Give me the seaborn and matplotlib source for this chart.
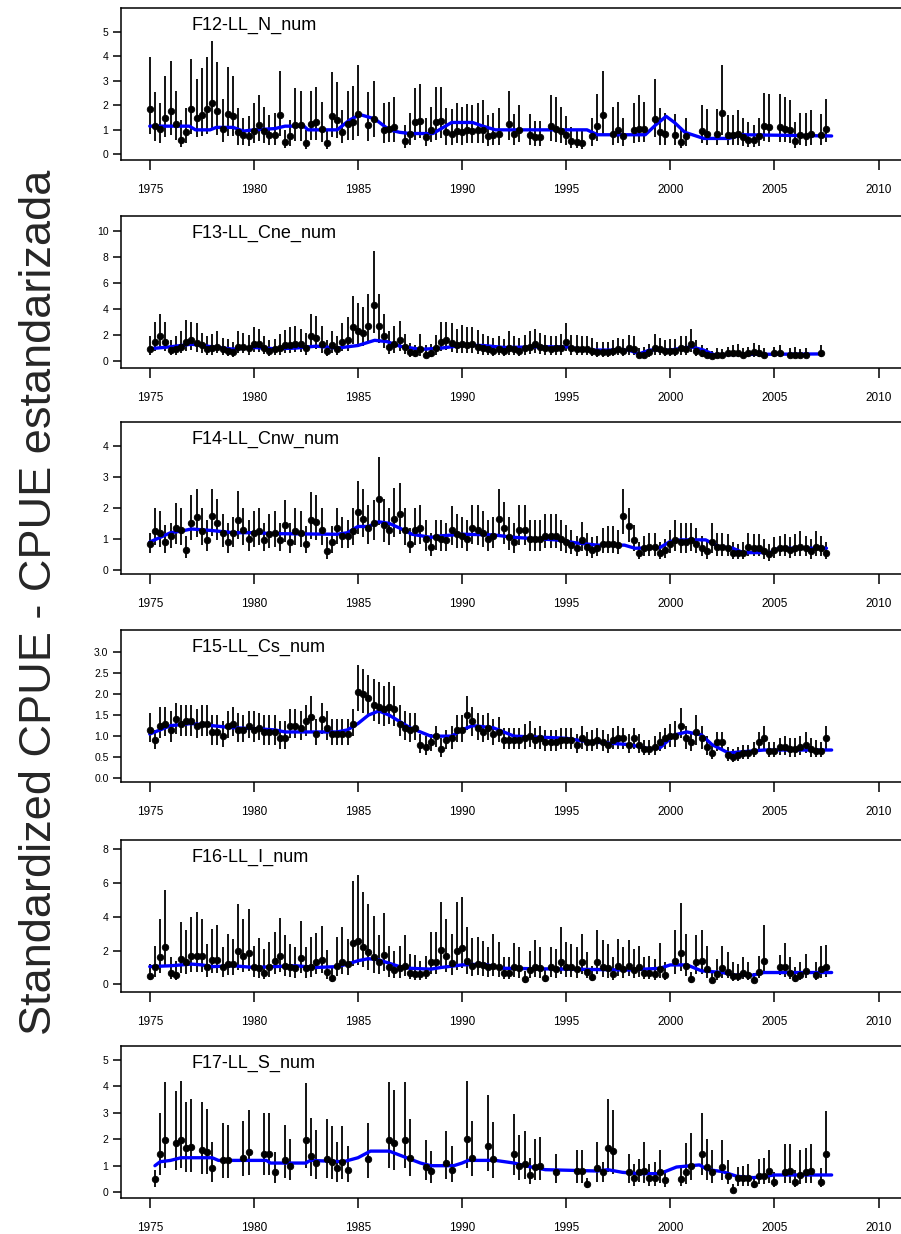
import numpy as np
import pandas as pd
import matplotlib
matplotlib.use("Agg")
import matplotlib.pyplot as plt
from matplotlib.ticker import FormatStrFormatter
import seaborn as sns

N = None

# quarterly time grid (categories): 1975 Q1 ... 2007 Q4
years = list(range(1975, 2008))
quarters = [1, 2, 3, 4]

# ---------------- F12-LL_N_num ----------------
f12_val = [1.85, 1.15, 1.05, 1.5, 1.75, 1.25, 0.6, 0.9,
           1.85, 1.5, 1.6, 1.85, 2.1, 1.75, 1.05, 1.65,
           1.55, 0.9, 0.8, 0.75, 0.95, 1.2, 0.95, 0.8,
           0.8, 1.6, 0.5, 0.75, 1.2, 1.2, 0.45, 1.25,
           1.3, 1.05, 0.45, 1.55, 1.4, 0.9, 1.25, 1.3,
           1.65, N, 1.2, 1.45, N, 1.0, 1.05, 1.1,
           N, 0.55, 0.85, 1.3, 1.35, 0.7, 1.0, 1.3,
           1.35, 0.9, 0.85, 0.95, 0.9, 1.0, 0.95, 1.0,
           1.0, 0.75, 0.8, 0.85, N, 1.25, 0.85, 1.0,
           N, 0.8, 0.7, 0.7, N, 1.15, 1.05, 0.95,
           0.8, 0.55, 0.5, 0.45, N, 0.75, 1.15, 1.6,
           N, 0.85, 1.0, 0.75, N, 1.0, 1.05, 1.05,
           N, 1.45, 0.9, 0.85, N, 0.8, 0.5, 0.75,
           N, N, 0.95, 0.85, N, 0.85, 1.7, 0.8,
           0.8, 0.85, 0.7, 0.6, 0.6, 0.75, 1.15, 1.1,
           N, 1.1, 1.05, 1.0, 0.55, 0.8, 0.75, 0.85,
           N, 0.8, 1.05, N]
f12_hi = [3.95, 2.55, 2.1, 3.2, 3.8, 2.6, 1.4, 1.9,
          3.9, 3.05, 3.5, 3.95, 4.6, 3.75, 2.25, 3.55,
          3.2, 1.9, 1.5, 1.55, 2.1, 2.4, 1.95, 1.6,
          1.7, 3.4, 1.0, 1.4, 2.7, 2.6, 1.0, 2.6,
          2.75, 2.15, 1.0, 3.35, 2.95, 1.8, 2.6, 2.8,
          3.65, N, 2.55, 3.0, N, 2.1, 2.15, 2.35,
          N, 1.2, 1.7, 2.7, 2.85, 1.5, 1.95, 2.75,
          2.75, 1.9, 1.85, 2.1, 1.95, 2.05, 2.0, 2.1,
          2.2, 1.6, 1.7, 1.9, N, 2.6, 1.65, 2.0,
          N, 1.65, 1.35, 1.35, N, 2.4, 2.35, 1.95,
          1.55, 1.1, 1.05, 0.95, N, 1.5, 2.45, 3.4,
          N, 1.95, 2.15, 1.5, N, 2.1, 2.4, 2.15,
          N, 3.05, 1.9, 1.7, N, 1.65, 1.1, 1.5,
          N, N, 2.0, 1.85, N, 1.85, 3.65, 1.6,
          1.6, 1.8, 1.5, 1.3, 1.2, 1.5, 2.5, 2.45,
          N, 2.45, 2.35, 2.2, 1.3, 1.7, 1.7, 1.8,
          N, 1.65, 2.25, N]
f12_lo = [0.85, 0.55, 0.45, 0.7, 0.8, 0.6, 0.3, 0.45,
          0.85, 0.7, 0.75, 0.85, 1.0, 0.8, 0.5, 0.75,
          0.75, 0.4, 0.4, 0.35, 0.45, 0.55, 0.45, 0.4,
          0.4, 0.75, 0.25, 0.35, 0.55, 0.55, 0.2, 0.6,
          0.6, 0.5, 0.2, 0.7, 0.65, 0.45, 0.6, 0.6,
          0.75, N, 0.55, 0.7, N, 0.45, 0.5, 0.5,
          N, 0.25, 0.4, 0.6, 0.65, 0.35, 0.5, 0.6,
          0.65, 0.4, 0.4, 0.45, 0.4, 0.45, 0.45, 0.45,
          0.45, 0.35, 0.4, 0.4, N, 0.6, 0.4, 0.5,
          N, 0.4, 0.35, 0.35, N, 0.55, 0.5, 0.45,
          0.4, 0.25, 0.25, 0.2, N, 0.35, 0.55, 0.75,
          N, 0.4, 0.45, 0.35, N, 0.45, 0.5, 0.5,
          N, 0.7, 0.4, 0.4, N, 0.4, 0.25, 0.35,
          N, N, 0.45, 0.4, N, 0.4, 0.8, 0.4,
          0.4, 0.4, 0.35, 0.3, 0.3, 0.35, 0.55, 0.5,
          N, 0.5, 0.5, 0.45, 0.25, 0.4, 0.35, 0.4,
          N, 0.4, 0.5, N]
f12_trend_t = [1975.0, 1976.9, 1977.2, 1977.9, 1978.2, 1979.0, 1979.5, 1980.0, 1981.0,
               1981.5, 1982.4, 1982.6, 1984.0, 1984.6, 1985.1, 1985.8, 1986.5, 1987.0,
               1987.5, 1988.6, 1989.0, 1989.5, 1990.5, 1991.0, 1991.6, 1996.0, 1996.5,
               1998.8, 1999.3, 1999.8, 2000.2, 2000.7, 2001.6, 2002.8, 2003.5, 2007.75]
f12_trend_v = [1.15, 1.15, 1.0, 1.0, 1.1, 1.1, 0.95, 1.0, 1.05,
               1.15, 1.15, 1.0, 1.0, 1.4, 1.62, 1.45, 1.0, 0.9,
               0.85, 0.85, 1.05, 1.3, 1.3, 1.15, 1.0, 1.0, 0.8,
               0.8, 1.2, 1.55, 1.3, 0.9, 0.65, 0.65, 0.8, 0.75]

# ---------------- F13-LL_Cne_num ----------------
f13_val = [0.9, 1.5, 1.9, 1.5, 0.85, 0.9, 1.1, 1.5,
           1.6, 1.4, 1.2, 0.9, 1.0, 1.1, 0.9, 0.8,
           0.7, 1.1, 1.1, 1.0, 1.3, 1.3, 1.0, 0.8,
           0.9, 1.0, 1.2, 1.2, 1.3, 1.3, 1.0, 1.9,
           1.8, 1.3, 0.8, 1.2, 0.9, 1.5, 1.6, 2.6,
           2.3, 2.2, 2.7, 4.3, 2.7, 1.9, 1.1, 1.3,
           1.6, 1.1, 0.7, 0.6, 0.9, 0.5, 0.6, 1.0,
           1.5, 1.6, 1.4, 1.2, 1.3, 1.2, 1.3, 1.1,
           1.0, 0.9, 0.8, 0.9, 0.8, 1.0, 0.9, 0.8,
           1.0, 1.1, 1.3, 1.1, 1.0, 0.9, 1.0, 1.0,
           1.5, 1.0, 0.9, 0.9, 0.9, 0.8, 0.7, 0.7,
           0.7, 0.8, 0.9, 0.8, 1.0, 0.9, 0.5, 0.5,
           0.7, 1.0, 0.9, 0.8, 0.8, 0.8, 1.0, 0.9,
           1.3, 0.8, 0.6, 0.5, 0.4, 0.5, 0.5, 0.6,
           0.6, 0.6, 0.5, 0.6, 0.7, 0.6, 0.5, N,
           0.6, 0.6, N, 0.5, 0.5, 0.5, 0.5, N,
           N, 0.6, N, N]
f13_hi = [1.9, 3.0, 3.6, 3.0, 1.6, 1.9, 2.3, 3.2,
          3.0, 2.9, 2.2, 1.9, 2.1, 2.3, 1.8, 1.7,
          1.5, 2.3, 2.2, 2.0, 2.6, 2.5, 1.9, 1.6,
          1.7, 2.1, 2.4, 2.6, 2.7, 2.5, 2.2, 3.6,
          3.5, 2.7, 1.6, 2.3, 1.9, 2.9, 3.4, 5.0,
          4.5, 4.2, 5.2, 8.5, 5.2, 3.6, 2.3, 2.7,
          3.1, 2.1, 1.4, 1.2, 2.1, 1.2, 1.3, 2.0,
          3.0, 3.0, 2.9, 2.5, 2.8, 2.6, 2.6, 2.4,
          2.1, 1.9, 1.8, 1.9, 1.7, 2.3, 1.9, 1.8,
          2.0, 2.3, 2.5, 2.2, 2.0, 1.9, 1.9, 2.1,
          2.9, 2.0, 2.0, 1.9, 1.9, 1.8, 1.5, 1.5,
          1.5, 1.6, 1.8, 1.7, 2.0, 1.9, 1.0, 1.1,
          1.3, 2.1, 1.8, 1.6, 1.7, 1.7, 1.9, 1.9,
          2.5, 1.6, 1.2, 1.0, 0.8, 1.0, 0.9, 1.1,
          1.2, 1.3, 1.0, 1.1, 1.4, 1.2, 1.0, N,
          1.1, 1.2, N, 1.0, 1.1, 0.9, 1.0, N,
          N, 1.2, N, N]
f13_lo = [0.5, 0.8, 1.0, 0.8, 0.45, 0.5, 0.6, 0.8,
          0.85, 0.7, 0.65, 0.5, 0.5, 0.6, 0.5, 0.4,
          0.35, 0.6, 0.6, 0.5, 0.7, 0.7, 0.55, 0.4,
          0.5, 0.5, 0.6, 0.6, 0.7, 0.7, 0.5, 1.0,
          0.95, 0.65, 0.4, 0.65, 0.45, 0.8, 0.8, 1.3,
          1.2, 1.15, 1.4, 2.2, 1.4, 1.0, 0.55, 0.65,
          0.8, 0.55, 0.35, 0.3, 0.4, 0.25, 0.3, 0.5,
          0.75, 0.85, 0.7, 0.6, 0.65, 0.6, 0.65, 0.55,
          0.5, 0.45, 0.4, 0.45, 0.4, 0.5, 0.45, 0.4,
          0.5, 0.55, 0.65, 0.55, 0.5, 0.45, 0.5, 0.5,
          0.8, 0.5, 0.45, 0.45, 0.45, 0.4, 0.35, 0.35,
          0.35, 0.4, 0.45, 0.4, 0.5, 0.45, 0.25, 0.25,
          0.35, 0.5, 0.45, 0.4, 0.4, 0.4, 0.5, 0.45,
          0.7, 0.4, 0.3, 0.25, 0.2, 0.25, 0.25, 0.3,
          0.3, 0.3, 0.25, 0.3, 0.35, 0.3, 0.25, N,
          0.3, 0.3, N, 0.25, 0.25, 0.25, 0.25, N,
          N, 0.3, N, N]
f13_trend_t = [1975.0, 1976.0, 1977.0, 1978.0, 1979.0, 1980.0, 1981.0, 1982.0, 1983.0,
               1984.0, 1985.0, 1985.8, 1986.4, 1987.0, 1988.0, 1989.0, 1990.0, 1991.0,
               1992.0, 1994.0, 1995.0, 1996.0, 1998.0, 1998.5, 1999.0, 2000.0, 2001.0,
               2001.6, 2002.1, 2007.25]
f13_trend_v = [0.95, 1.1, 1.3, 1.1, 0.92, 1.05, 0.95, 1.0, 1.15,
               1.0, 1.2, 1.6, 1.5, 1.15, 0.9, 1.0, 1.2, 1.2,
               1.05, 1.1, 1.1, 0.85, 0.85, 0.55, 0.85, 0.85, 1.1,
               0.85, 0.5, 0.55]

# ---------------- F14-LL_Cnw_num ----------------
f14_val = [0.85, 1.25, 1.2, 0.9, 1.1, 1.35, 1.3, 0.65,
           1.5, 1.7, 1.25, 0.95, 1.75, 1.5, 1.2, 0.9,
           1.2, 1.6, 1.3, 1.0, 1.2, 1.25, 0.95, 1.15,
           1.2, 0.95, 1.45, 0.9, 1.25, 1.2, 0.85, 1.6,
           1.55, 1.3, 0.6, 0.9, 1.35, 1.1, 1.1, 1.25,
           1.85, 1.65, 1.35, 1.5, 2.3, 1.45, 1.3, 1.65,
           1.8, 1.3, 0.85, 1.3, 1.35, 1.0, 0.75, 1.05,
           1.0, 0.95, 1.3, 1.15, 1.1, 1.0, 1.35, 1.3,
           1.2, 1.0, 1.1, 1.65, 1.35, 1.05, 0.9, 1.3,
           1.3, 1.0, 1.0, 1.0, 1.1, 1.1, 1.1, 1.0,
           0.9, 0.8, 0.7, 0.95, 0.75, 0.65, 0.7, 0.85,
           0.85, 0.85, 0.8, 1.75, 1.4, 0.95, 0.55, 0.7,
           0.75, 0.75, 0.55, 0.65, 0.85, 0.95, 0.9, 0.9,
           0.95, 0.85, 0.7, 0.6, 0.9, 0.75, 0.75, 0.7,
           0.55, 0.55, 0.55, 0.75, 0.7, 0.7, 0.6, 0.5,
           0.65, 0.7, 0.7, 0.65, 0.7, 0.75, 0.7, 0.6,
           0.75, 0.7, 0.55, N]
f14_hi = [1.2, 2.0, 1.9, 1.45, 1.5, 2.15, 2.0, 1.1,
          2.4, 2.6, 2.0, 1.6, 2.6, 2.3, 1.8, 1.5,
          1.7, 2.55, 2.0, 1.6, 1.9, 2.0, 1.5, 1.8,
          1.9, 1.5, 2.25, 1.5, 2.0, 1.9, 1.4, 2.5,
          2.4, 2.0, 1.05, 1.4, 2.0, 1.7, 1.6, 2.0,
          2.85, 2.6, 2.1, 2.25, 3.65, 2.3, 2.0, 2.65,
          2.8, 2.0, 1.35, 2.0, 2.1, 1.6, 1.2, 1.6,
          1.6, 1.5, 2.05, 1.8, 1.7, 1.6, 2.1, 2.1,
          1.9, 1.6, 1.7, 2.6, 2.2, 1.7, 1.5, 2.1,
          2.1, 1.6, 1.6, 1.6, 1.8, 1.8, 1.8, 1.6,
          1.45, 1.3, 1.1, 1.55, 1.2, 1.05, 1.1, 1.35,
          1.4, 1.4, 1.3, 2.6, 2.0, 1.45, 0.9, 1.1,
          1.2, 1.2, 0.9, 1.0, 1.3, 1.6, 1.5, 1.5,
          1.5, 1.35, 1.1, 0.95, 1.5, 1.2, 1.2, 1.15,
          0.9, 0.85, 0.9, 1.2, 1.15, 1.15, 1.0, 0.85,
          1.05, 1.1, 1.15, 1.05, 1.15, 1.25, 1.1, 1.0,
          1.25, 1.1, 0.9, N]
f14_lo = [0.55, 0.8, 0.75, 0.55, 0.7, 0.85, 0.8, 0.4,
          0.95, 1.05, 0.8, 0.6, 1.1, 0.95, 0.75, 0.55,
          0.75, 1.0, 0.8, 0.6, 0.75, 0.8, 0.6, 0.7,
          0.75, 0.6, 0.9, 0.55, 0.8, 0.75, 0.55, 1.0,
          0.95, 0.8, 0.35, 0.55, 0.85, 0.7, 0.7, 0.8,
          1.15, 1.05, 0.85, 0.95, 1.45, 0.9, 0.8, 1.05,
          1.15, 0.8, 0.55, 0.8, 0.85, 0.6, 0.45, 0.65,
          0.6, 0.6, 0.8, 0.7, 0.7, 0.6, 0.85, 0.8,
          0.75, 0.6, 0.7, 1.05, 0.85, 0.65, 0.55, 0.8,
          0.8, 0.6, 0.6, 0.6, 0.7, 0.7, 0.7, 0.6,
          0.55, 0.5, 0.45, 0.6, 0.45, 0.4, 0.45, 0.55,
          0.55, 0.55, 0.5, 1.15, 0.9, 0.6, 0.35, 0.45,
          0.45, 0.45, 0.35, 0.4, 0.55, 0.6, 0.55, 0.55,
          0.6, 0.55, 0.45, 0.35, 0.55, 0.45, 0.45, 0.45,
          0.35, 0.35, 0.35, 0.45, 0.45, 0.45, 0.35, 0.3,
          0.4, 0.45, 0.45, 0.4, 0.45, 0.45, 0.45, 0.35,
          0.45, 0.45, 0.35, N]
f14_trend_t = [1975.0, 1975.5, 1976.0, 1976.5, 1977.0, 1978.0, 1979.0, 1980.0, 1981.0,
               1984.0, 1984.5, 1985.0, 1985.5, 1986.0, 1986.5, 1987.0, 1987.6, 1988.5,
               1989.0, 1990.0, 1991.5, 1992.5, 1994.5, 1995.5, 1996.5, 1997.8, 1998.3,
               1999.5, 2000.0, 2000.5, 2001.7, 2002.3, 2003.0, 2003.5, 2004.8, 2005.2,
               2007.5]
f14_trend_v = [0.9, 1.05, 1.2, 1.25, 1.32, 1.27, 1.2, 1.2, 1.17,
               1.15, 1.2, 1.4, 1.4, 1.55, 1.5, 1.35, 1.15, 1.05,
               1.1, 1.15, 1.13, 1.05, 0.97, 0.87, 0.8, 0.8, 0.7,
               0.72, 0.92, 0.97, 0.97, 0.76, 0.7, 0.56, 0.56, 0.7,
               0.7]

# ---------------- F15-LL_Cs_num ----------------
f15_val = [1.15, 0.9, 1.25, 1.3, 1.15, 1.4, 1.3, 1.35,
           1.35, 1.25, 1.3, 1.3, 1.1, 1.1, 1.0, 1.25,
           1.3, 1.15, 1.15, 1.25, 1.15, 1.2, 1.1, 1.1,
           1.1, 0.95, 0.95, 1.25, 1.25, 1.2, 1.35, 1.45,
           1.05, 1.4, 1.2, 1.05, 1.05, 1.05, 1.05, 1.3,
           2.05, 2.0, 1.9, 1.75, 1.7, 1.65, 1.7, 1.65,
           1.3, 1.2, 1.15, 1.2, 0.8, 0.75, 0.85, 1.0,
           0.7, 0.9, 0.95, 1.15, 1.15, 1.5, 1.35, 1.2,
           1.1, 1.2, 1.05, 1.1, 0.9, 0.9, 0.9, 0.9,
           0.95, 1.0, 0.9, 0.95, 0.85, 0.85, 0.85, 0.9,
           0.9, 0.9, 0.8, 0.95, 0.85, 0.85, 0.9, 0.85,
           0.8, 0.9, 0.95, 0.95, 0.8, 0.95, 0.8, 0.7,
           0.7, 0.75, 0.85, 0.95, 1.0, 1.0, 1.25, 0.95,
           0.85, 1.1, 0.95, 0.75, 0.6, 0.85, 0.85, 0.55,
           0.5, 0.55, 0.6, 0.6, 0.65, 0.85, 0.95, 0.65,
           0.65, 0.75, 0.75, 0.7, 0.7, 0.75, 0.8, 0.7,
           0.65, 0.65, 0.95, N]
f15_hi = [1.55, 1.15, 1.7, 1.7, 1.6, 1.8, 1.75, 1.75,
          1.75, 1.65, 1.75, 1.75, 1.5, 1.5, 1.35, 1.6,
          1.7, 1.55, 1.5, 1.6, 1.6, 1.55, 1.5, 1.5,
          1.5, 1.35, 1.35, 1.65, 1.65, 1.6, 1.75, 1.95,
          1.4, 1.8, 1.6, 1.4, 1.4, 1.4, 1.4, 1.65,
          2.7, 2.6, 2.45, 2.35, 2.3, 2.2, 2.3, 2.2,
          1.75, 1.6, 1.55, 1.55, 1.05, 1.0, 1.05, 1.25,
          0.95, 1.15, 1.25, 1.5, 1.5, 1.95, 1.7, 1.55,
          1.5, 1.55, 1.4, 1.45, 1.2, 1.2, 1.2, 1.2,
          1.3, 1.35, 1.2, 1.25, 1.15, 1.15, 1.15, 1.2,
          1.2, 1.2, 1.05, 1.25, 1.1, 1.15, 1.2, 1.15,
          1.05, 1.2, 1.25, 1.2, 1.05, 1.2, 1.05, 0.9,
          0.9, 1.0, 1.1, 1.2, 1.3, 1.35, 1.68, 1.25,
          1.1, 1.5, 1.25, 1.0, 0.8, 1.1, 1.1, 0.75,
          0.7, 0.75, 0.8, 0.8, 0.85, 1.1, 1.25, 0.85,
          0.85, 0.95, 1.0, 0.95, 0.95, 1.0, 1.1, 0.95,
          0.9, 0.85, 1.25, N]
f15_lo = [0.85, 0.7, 0.95, 1.0, 0.85, 1.05, 1.0, 1.0,
          1.0, 0.95, 1.0, 1.0, 0.8, 0.8, 0.75, 0.95,
          1.0, 0.85, 0.85, 0.95, 0.85, 0.9, 0.8, 0.8,
          0.8, 0.7, 0.7, 0.95, 0.95, 0.9, 1.0, 1.1,
          0.8, 1.05, 0.9, 0.8, 0.8, 0.8, 0.8, 1.0,
          1.6, 1.55, 1.45, 1.35, 1.3, 1.25, 1.3, 1.25,
          1.0, 0.9, 0.85, 0.9, 0.6, 0.55, 0.65, 0.75,
          0.5, 0.7, 0.7, 0.85, 0.85, 1.15, 1.0, 0.9,
          0.85, 0.9, 0.8, 0.85, 0.7, 0.7, 0.7, 0.7,
          0.7, 0.75, 0.7, 0.7, 0.65, 0.65, 0.65, 0.7,
          0.7, 0.7, 0.6, 0.7, 0.65, 0.65, 0.7, 0.65,
          0.6, 0.7, 0.7, 0.7, 0.6, 0.7, 0.6, 0.55,
          0.55, 0.55, 0.65, 0.7, 0.75, 0.75, 0.95, 0.7,
          0.65, 0.8, 0.7, 0.55, 0.45, 0.65, 0.65, 0.4,
          0.38, 0.4, 0.45, 0.45, 0.5, 0.65, 0.7, 0.5,
          0.5, 0.55, 0.55, 0.5, 0.5, 0.55, 0.6, 0.5,
          0.5, 0.5, 0.7, N]
f15_trend_t = [1975.0, 1975.5, 1976.0, 1977.0, 1978.0, 1979.0, 1980.0, 1981.0, 1981.5,
               1984.0, 1984.5, 1985.0, 1985.5, 1986.0, 1986.5, 1987.0, 1987.5, 1988.0,
               1988.5, 1989.5, 1990.0, 1990.5, 1991.5, 1992.5, 1995.0, 1996.0, 1998.0,
               1999.0, 1999.5, 2000.2, 2000.8, 2001.5, 2002.0, 2002.8, 2003.5, 2004.5,
               2007.75]
f15_trend_v = [1.05, 1.15, 1.25, 1.3, 1.25, 1.2, 1.18, 1.15, 1.1,
               1.1, 1.15, 1.3, 1.5, 1.6, 1.5, 1.35, 1.2, 1.1,
               1.0, 1.0, 1.15, 1.25, 1.2, 1.0, 0.95, 0.87, 0.8,
               0.7, 0.72, 1.03, 1.1, 1.03, 0.8, 0.6, 0.63, 0.67,
               0.67]

# ---------------- F16-LL_I_num ----------------
f16_val = [0.5, 1.0, 1.6, 2.2, 0.7, 0.55, 1.5, 1.35,
           1.65, 1.7, 1.65, 1.05, 1.45, 1.45, 1.05, 1.2,
           1.2, 1.95, 1.65, 1.85, 1.05, 0.95, 0.7, 1.05,
           1.4, 1.65, 1.1, 1.0, 0.95, 1.55, 0.95, 1.0,
           1.35, 1.45, 0.75, 0.35, 1.1, 1.35, 1.2, 2.45,
           2.55, 2.2, 1.9, 1.6, 1.3, 1.75, 1.05, 0.85,
           0.95, 1.1, 0.7, 0.6, 0.6, 0.7, 1.35, 1.3,
           2.05, 1.65, 1.25, 1.95, 2.15, 1.4, 1.1, 1.2,
           1.15, 1.0, 1.1, 1.05, 0.65, 0.65, 1.0, 0.95,
           0.3, 0.85, 1.0, 0.95, 0.35, 1.0, 0.9, 1.3,
           1.0, 1.0, 0.9, 1.3, 0.75, 0.45, 1.35, 1.0,
           0.95, 0.6, 1.1, 0.9, 1.1, 0.85, 1.0, 0.65,
           0.7, 0.6, 0.9, 0.55, N, 1.4, 1.85, 1.1,
           0.3, 1.3, 1.4, 0.9, 0.25, 0.6, 0.95, 0.75,
           0.5, 0.5, 0.65, 0.55, 0.25, 0.75, 1.4, N,
           N, 1.0, 1.0, 0.7, 0.4, 0.55, 0.8, N,
           0.55, 0.9, 1.0, N]
f16_hi = [1.2, 2.3, 3.9, 5.6, 1.6, 1.4, 3.7, 3.2,
          4.0, 4.3, 3.85, 2.4, 3.3, 3.5, 2.2, 3.0,
          2.7, 4.75, 3.85, 4.45, 2.3, 2.75, 2.1, 2.5,
          3.1, 3.95, 2.9, 2.4, 2.2, 3.75, 2.2, 2.8,
          3.05, 3.45, 2.05, 1.0, 2.8, 3.4, 2.7, 6.1,
          6.5, 5.5, 4.75, 4.05, 2.9, 4.25, 2.3, 2.0,
          2.3, 2.9, 1.8, 1.75, 1.4, 1.7, 3.1, 3.1,
          4.85, 3.9, 3.0, 4.85, 5.15, 3.4, 2.75, 2.8,
          2.55, 2.2, 3.0, 2.5, 1.6, 1.6, 2.45, 2.2,
          0.8, 2.0, 2.6, 2.2, 0.9, 2.2, 2.1, 3.4,
          2.5, 2.4, 2.2, 3.0, 1.9, 1.1, 3.2, 2.6,
          2.4, 1.6, 2.7, 2.2, 2.6, 2.1, 2.3, 1.6,
          1.7, 1.5, 2.45, 1.3, N, 3.2, 4.8, 3.0,
          0.75, 2.9, 3.2, 2.3, 0.7, 1.5, 2.3, 1.9,
          1.3, 1.2, 1.6, 1.3, 0.7, 1.7, 3.5, N,
          N, 1.75, 2.45, 1.6, 1.0, 1.3, 1.8, N,
          1.3, 2.3, 2.35, N]
f16_lo = [0.25, 0.45, 0.7, 1.0, 0.3, 0.25, 0.65, 0.6,
          0.75, 0.75, 0.75, 0.45, 0.65, 0.65, 0.45, 0.55,
          0.55, 0.85, 0.75, 0.8, 0.45, 0.4, 0.3, 0.45,
          0.6, 0.75, 0.5, 0.45, 0.4, 0.7, 0.4, 0.45,
          0.6, 0.65, 0.3, 0.15, 0.5, 0.6, 0.55, 1.1,
          1.15, 1.0, 0.85, 0.7, 0.6, 0.8, 0.45, 0.4,
          0.4, 0.5, 0.3, 0.25, 0.25, 0.3, 0.6, 0.6,
          0.9, 0.75, 0.55, 0.85, 0.95, 0.6, 0.5, 0.55,
          0.5, 0.45, 0.5, 0.45, 0.3, 0.3, 0.45, 0.4,
          0.1, 0.4, 0.45, 0.4, 0.15, 0.45, 0.4, 0.6,
          0.45, 0.45, 0.4, 0.6, 0.35, 0.2, 0.6, 0.45,
          0.4, 0.25, 0.5, 0.4, 0.5, 0.4, 0.45, 0.3,
          0.3, 0.25, 0.4, 0.25, N, 0.6, 0.8, 0.5,
          0.1, 0.6, 0.6, 0.4, 0.1, 0.25, 0.4, 0.35,
          0.2, 0.2, 0.3, 0.25, 0.1, 0.35, 0.6, N,
          N, 0.55, 0.45, 0.3, 0.15, 0.25, 0.35, N,
          0.25, 0.4, 0.45, N]
f16_trend_t = [1975.0, 1976.0, 1977.0, 1977.5, 1978.0, 1979.0, 1980.0, 1981.0, 1982.0,
               1983.0, 1984.0, 1984.5, 1985.0, 1985.5, 1986.0, 1986.5, 1987.0, 1987.5,
               1988.5, 1989.0, 1990.0, 1991.0, 1992.0, 1995.0, 1998.0, 1999.5, 2000.0,
               2000.8, 2001.5, 2002.5, 2003.0, 2004.0, 2004.5, 2007.75]
f16_trend_v = [1.05, 1.1, 1.2, 1.15, 1.05, 1.1, 1.0, 1.05, 1.1,
               1.0, 1.05, 1.2, 1.4, 1.52, 1.45, 1.25, 1.05, 0.95,
               0.9, 1.0, 1.15, 1.2, 0.95, 0.9, 0.85, 0.95, 1.15,
               1.15, 0.8, 0.7, 0.55, 0.55, 0.7, 0.7]

# ---------------- F17-LL_S_num ----------------
f17_val = [N, 0.5, 1.45, 1.95, N, 1.85, 1.95, 1.65,
           1.7, N, 1.6, 1.5, 0.9, N, 1.2, 1.2,
           N, N, 1.3, 1.5, N, N, 1.45, 1.45,
           0.75, N, 1.2, 1.0, N, N, 1.95, 1.35,
           1.1, N, 1.25, 1.15, 0.9, 1.15, 0.85, N,
           N, N, 1.25, N, N, N, 1.95, 1.85,
           N, 1.95, 1.3, N, N, 0.95, 0.8, N,
           N, 1.1, 0.85, N, N, 2.0, 1.3, N,
           N, 1.75, 1.25, N, N, N, 1.45, 1.0,
           1.05, 0.65, 0.95, 1.0, N, N, 0.75, N,
           N, N, 0.8, 0.8, 0.3, N, 0.9, 0.75,
           1.65, 1.55, N, N, 0.75, 0.55, 0.75, 0.8,
           0.55, 0.55, 0.75, 0.45, N, N, 0.5, 0.75,
           1.0, N, 1.45, 0.95, 0.75, N, 0.95, 0.6,
           0.1, 0.55, 0.55, 0.55, 0.3, 0.6, 0.6, 0.8,
           0.4, N, 0.75, 0.8, 0.4, 0.65, 0.75, 0.8,
           N, 0.4, 1.45, N]
f17_hi = [N, 0.85, 3.0, 4.15, N, 3.8, 4.2, 3.4,
          3.5, N, 3.4, 3.15, 1.9, N, 2.6, 2.55,
          N, N, 2.7, 3.1, N, N, 3.0, 3.0,
          1.5, N, 2.55, 2.0, N, N, 4.1, 2.8,
          2.35, N, 2.75, 2.5, 1.9, 2.5, 1.75, N,
          N, N, 2.6, N, N, N, 4.15, 3.85,
          N, 4.15, 2.75, N, N, 1.95, 1.55, N,
          N, 2.3, 1.75, N, N, 4.2, 2.7, N,
          N, 3.65, 2.65, N, N, N, 2.95, 2.15,
          2.3, 1.3, 2.0, 2.1, N, N, 1.45, N,
          N, N, 1.6, 1.6, 0.55, N, 1.9, 1.15,
          3.5, 3.1, N, N, 1.45, 1.05, 1.25, 1.9,
          1.05, 1.15, 1.6, 0.85, N, N, 1.0, 1.85,
          2.25, N, 3.0, 2.0, 1.6, N, 1.95, 1.2,
          0.3, 0.95, 1.0, 1.05, 0.6, 1.25, 1.3, 1.6,
          0.75, N, 1.8, 1.8, 0.85, 1.6, 1.65, 1.8,
          N, 0.9, 3.05, N]
f17_lo = [N, 0.2, 0.65, 0.9, N, 0.85, 0.9, 0.75,
          0.75, N, 0.7, 0.7, 0.4, N, 0.55, 0.55,
          N, N, 0.6, 0.65, N, N, 0.65, 0.65,
          0.35, N, 0.55, 0.45, N, N, 0.9, 0.6,
          0.5, N, 0.55, 0.5, 0.4, 0.5, 0.4, N,
          N, N, 0.55, N, N, N, 0.9, 0.85,
          N, 0.9, 0.6, N, N, 0.45, 0.35, N,
          N, 0.5, 0.4, N, N, 0.9, 0.6, N,
          N, 0.8, 0.55, N, N, N, 0.65, 0.45,
          0.5, 0.3, 0.45, 0.45, N, N, 0.35, N,
          N, N, 0.35, 0.35, 0.15, N, 0.4, 0.4,
          0.75, 0.7, N, N, 0.35, 0.25, 0.4, 0.35,
          0.25, 0.25, 0.35, 0.2, N, N, 0.25, 0.3,
          0.45, N, 0.65, 0.45, 0.35, N, 0.45, 0.3,
          0.05, 0.25, 0.25, 0.25, 0.15, 0.3, 0.3, 0.35,
          0.2, N, 0.35, 0.35, 0.2, 0.3, 0.35, 0.35,
          N, 0.2, 0.65, N]
f17_trend_t = [1975.25, 1975.5, 1976.0, 1976.5, 1978.0, 1978.3, 1980.6, 1980.8, 1982.5,
               1982.7, 1984.3, 1985.0, 1985.6, 1986.5, 1987.0, 1987.5, 1988.0, 1988.5,
               1989.6, 1990.0, 1990.3, 1991.6, 1992.5, 1993.0, 1994.0, 1996.5, 1997.0,
               1997.7, 1998.5, 1999.5, 2000.3, 2001.4, 2001.8, 2002.5, 2003.2, 2004.0,
               2005.0, 2007.75]
f17_trend_v = [1.0, 1.15, 1.2, 1.3, 1.3, 1.2, 1.2, 1.1, 1.1,
               1.2, 1.15, 1.3, 1.55, 1.55, 1.4, 1.25, 1.1, 1.0,
               1.0, 1.1, 1.2, 1.2, 1.1, 1.0, 0.85, 0.8, 0.85,
               0.75, 0.7, 0.7, 0.95, 1.03, 0.85, 0.78, 0.6, 0.55,
               0.65, 0.65]

panel_names = ["F12-LL_N_num", "F13-LL_Cne_num", "F14-LL_Cnw_num",
               "F15-LL_Cs_num", "F16-LL_I_num", "F17-LL_S_num"]
x_ticks = [1975, 1980, 1985, 1990, 1995, 2000, 2005, 2010]
y_ticks = [[0, 1, 2, 3, 4, 5], [0, 2, 4, 6, 8, 10], [0, 1, 2, 3, 4],
           [0.0, 0.5, 1.0, 1.5, 2.0, 2.5, 3.0], [0, 2, 4, 6, 8], [0, 1, 2, 3, 4, 5]]
y_label = "Standardized CPUE - CPUE estandarizada"

series = [(f12_val, f12_lo, f12_hi, f12_trend_t, f12_trend_v),
          (f13_val, f13_lo, f13_hi, f13_trend_t, f13_trend_v),
          (f14_val, f14_lo, f14_hi, f14_trend_t, f14_trend_v),
          (f15_val, f15_lo, f15_hi, f15_trend_t, f15_trend_v),
          (f16_val, f16_lo, f16_hi, f16_trend_t, f16_trend_v),
          (f17_val, f17_lo, f17_hi, f17_trend_t, f17_trend_v)]

# ---------------- layout / style ----------------
sns.set_style("ticks")
plt.rcParams['font.family'] = ['Liberation Sans', 'DejaVu Sans']

ylims = [(-0.23, 5.96), (-0.56, 11.15), (-0.13, 4.76), (-0.10, 3.52), (-0.47, 8.54), (-0.23, 5.5)]
bottoms = [0.8703, 0.7015, 0.5348, 0.3660, 0.1959, 0.0289]

time = [y + (q - 1) / 4 for y in years for q in quarters]

fig = plt.figure(figsize=(9.01, 12.34), dpi=100)
for k, (val, lo, hi, tt, tv) in enumerate(series):
    ax = fig.add_axes([0.1343, bottoms[k], 0.8680, 0.1232])
    df = pd.DataFrame({"t": time,
                       "v": np.array(val, dtype=float),
                       "lo": np.array(lo, dtype=float),
                       "hi": np.array(hi, dtype=float)}).dropna()
    ax.vlines(df["t"], df["lo"], df["hi"], color="black", linewidth=1.3, zorder=2)
    sns.lineplot(x=tt, y=tv, ax=ax, color="#0000ff", linewidth=2.4,
                 estimator=None, sort=False, zorder=3)
    sns.scatterplot(data=df, x="t", y="v", ax=ax, color="black", s=22,
                    marker="o", edgecolor="black", linewidth=0.6, zorder=4)
    ax.set_xlim(1973.62, 2011.18)
    ax.set_ylim(*ylims[k])
    ax.set_xticks(x_ticks)
    ax.set_yticks(y_ticks[k])
    if k == 3:
        ax.yaxis.set_major_formatter(FormatStrFormatter('%.1f'))
    ax.set_xlabel("")
    ax.set_ylabel("")
    for sp in ax.spines.values():
        sp.set_visible(True)
        sp.set_linewidth(1.1)
        sp.set_color("black")
    ax.tick_params(axis="x", length=7, width=1.1, labelsize=8.5, pad=10, colors="black")
    ax.tick_params(axis="y", length=6, width=1.1, labelsize=7.5, pad=3, colors="black")
    ax.text(0.0896, 0.888, panel_names[k], transform=ax.transAxes,
            fontsize=13, ha="left", va="center", color="black")

fig.text(0.044, 0.512, y_label, rotation=90, fontsize=32.5, ha="center", va="center")

fig.savefig("out.png", dpi=100)
